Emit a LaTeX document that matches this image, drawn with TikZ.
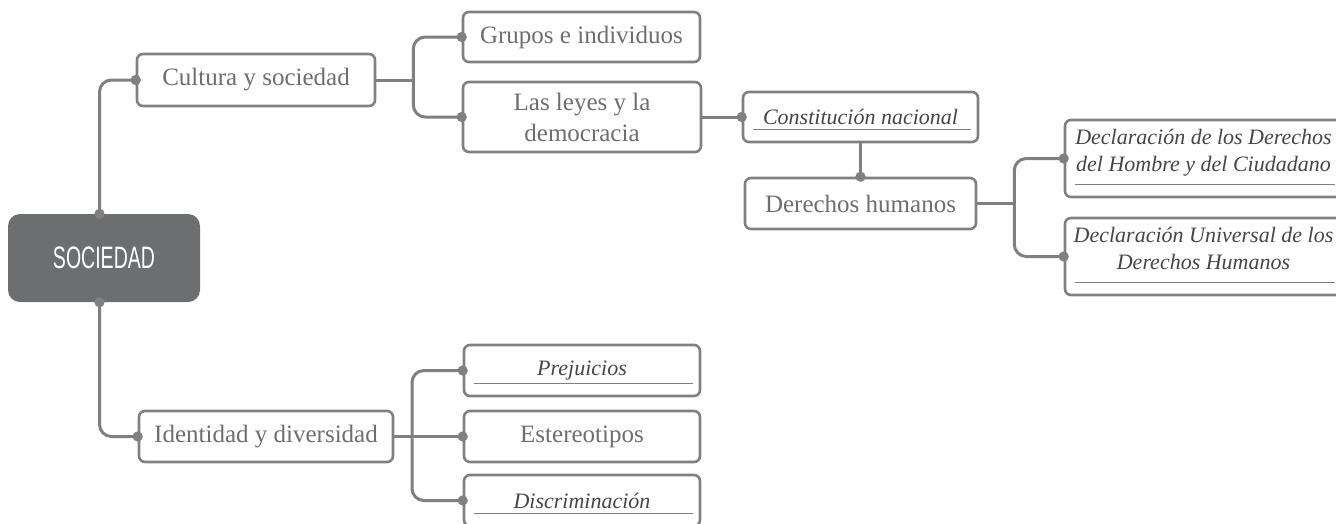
\documentclass[tikz,border=0pt]{standalone}
\usepackage{fontspec}
\setmainfont{Liberation Serif}
\newfontfamily\rootfont[FakeStretch=0.63]{Liberation Sans}
\usetikzlibrary{arrows.meta}

\definecolor{linegray}{HTML}{808083}
\definecolor{textgray}{HTML}{6E6E71}
\definecolor{italgray}{HTML}{464648}
\definecolor{rootgray}{HTML}{6D6E70}

\tikzset{
  knob/.tip={Circle[length=10pt]},
  topic/.style={draw=linegray, line width=2.6pt, rounded corners=6pt, fill=white,
    inner sep=0pt, align=center, text=textgray, font=\fontsize{25}{31}\selectfont},
  topicit/.style={topic, text=italgray, font=\fontsize{22}{27}\selectfont\itshape,
    path picture={\draw [linegray, line width=1.4pt]
      ([xshift=10pt, yshift=12.5pt]path picture bounding box.south west) --
      ([xshift=-7pt, yshift=12.5pt]path picture bounding box.south east);}},
  maintopic/.style={fill=rootgray, rounded corners=12pt, text=white,
    minimum width=192pt, minimum height=88pt, font=\rootfont\fontsize{31}{36}\selectfont},
  conn/.style={draw=linegray, line width=3pt, rounded corners=12pt,
    shorten <=-5pt, shorten >=-5pt}
}

\newcommand\lowpad{\rule[-16pt]{0pt}{16pt}}

\begin{document}
\begin{tikzpicture}[x=1pt, y=-1pt]

\useasboundingbox (0,0) rectangle (1336,523);

\node [maintopic] (soc) at (104,258) {SOCIEDAD};

\node [topic, minimum width=238pt, minimum height=52pt] (cul) at (256,80) {Cultura y sociedad};
\node [topic, minimum width=254pt, minimum height=51pt] (ide) at (266,436.5) {Identidad y diversidad};

\node [topic, minimum width=237pt, minimum height=50pt] (gru) at (581.5,37) {Grupos e individuos};
\node [topic, minimum width=238pt, minimum height=70pt] (ley) at (582,117) {Las leyes y la\\democracia};

\node [topicit, minimum width=235pt, minimum height=50pt] (con) at (860.5,117) {Constitución nacional};
\node [topic, minimum width=231pt, minimum height=51pt] (der) at (860.5,203.5) {Derechos humanos};

\foreach \n/\y/\t in {dec1/158.5/{Declaración de los Derechos\\del Hombre y del Ciudadano\lowpad},
                      dec2/256.5/{Declaración Universal de los\\Derechos Humanos\lowpad}}
  \node [topicit, minimum width=277pt, minimum height=77pt] (\n) at (1203.5,\y) {\t};

\foreach \n/\y/\t/\s in {pre/370.5/Prejuicios/topicit, est/436.5/Estereotipos/topic,
                         dis/500.5/Discriminación/topicit}
  \node [\s, minimum width=236pt, minimum height=51pt] (\n) at (582,\y) {\t};

\draw [conn, {knob}-{knob}] ([xshift=-4.5pt]soc.north) |- (cul.west);
\draw [conn, {knob}-{knob}] ([xshift=-4.5pt]soc.south) |- (ide.west);

\draw [conn, shorten <=0pt, shorten >=0pt] (cul.east) -- ++(37,0) coordinate (cfork);
\draw [conn, shorten <=0pt, shorten >=0pt] (der.east) -- ++(37,0) coordinate (dfork);
\coordinate (ifork) at (412,436.5);

\foreach \a/\b in {ley/con, con/der, ide/est}
  \draw [conn, shorten <=0pt, -{knob}] (\a) -- (\b);

\foreach \p/\f/\q in {gru/cfork/ley, dec1/dfork/dec2, pre/ifork/dis}
  \draw [conn, {knob}-{knob}] (\p.west) -| (\f) |- (\q.west);

\end{tikzpicture}
\end{document}
